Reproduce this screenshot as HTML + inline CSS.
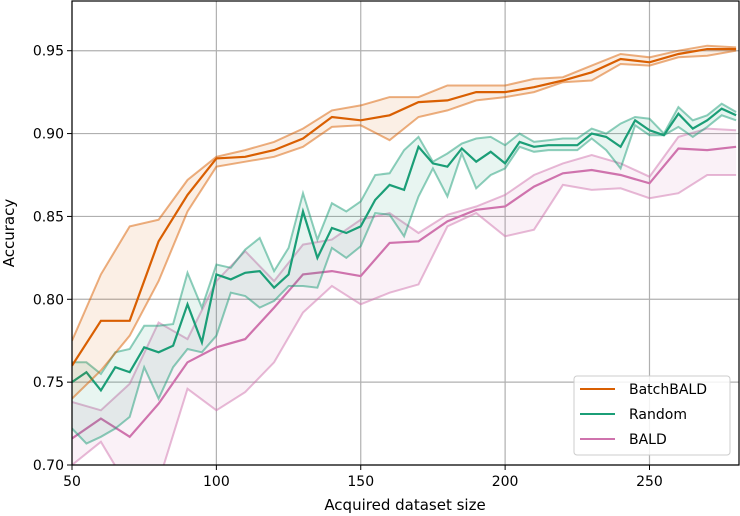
<!DOCTYPE html>
<html><head><meta charset="utf-8"><style>
html,body{margin:0;padding:0;background:#fff;}
svg{display:block;font-family:"DejaVu Sans","Liberation Sans",sans-serif;}
</style></head><body>
<svg id="chart" width="740" height="516" viewBox="0 0 740 516" xmlns="http://www.w3.org/2000/svg">
<g id="grid"></g>
<g id="series"></g>
<rect x="72" y="1" width="667" height="464" fill="none" stroke="#000" stroke-width="1.2"/>
<g id="ticks"></g>
<text x="405" y="510" font-size="15" text-anchor="middle">Acquired dataset size</text>
<text transform="translate(14,233) rotate(-90)" font-size="15" text-anchor="middle">Accuracy</text>
<g>
<rect x="574" y="376" width="156" height="79" rx="3" fill="#fff" fill-opacity="0.85" stroke="#ccc"/>
<line x1="580" y1="389" x2="615" y2="389" stroke="#d95f02" stroke-width="2"/>
<text x="629" y="394" font-size="14">BatchBALD</text>
<line x1="580" y1="414" x2="615" y2="414" stroke="#1b9e77" stroke-width="2"/>
<text x="629" y="419" font-size="14">Random</text>
<line x1="580" y1="439" x2="615" y2="439" stroke="#cf73ad" stroke-width="2"/>
<text x="629" y="444" font-size="14">BALD</text>
</g>
</svg>
<script>
const xTicks=[50,100,150,200,250];
const yTicks=[0.70,0.75,0.80,0.85,0.90,0.95];
const yTickLabels=["0.70","0.75","0.80","0.85","0.90","0.95"];
const xStep10=[50,60,70,80,90,100,110,120,130,140,150,160,170,180,190,200,210,220,230,240,250,260,270,280];
const xStep5=[50,55,60,65,70,75,80,85,90,95,100,105,110,115,120,125,130,135,140,145,150,155,160,165,170,175,180,185,190,195,200,205,210,215,220,225,230,235,240,245,250,255,260,265,270,275,280];
const batchMean=[0.760,0.787,0.787,0.835,0.863,0.885,0.886,0.890,0.897,0.910,0.908,0.911,0.919,0.920,0.925,0.925,0.928,0.932,0.937,0.945,0.943,0.948,0.951,0.951];
const batchUpper=[0.775,0.815,0.844,0.848,0.872,0.886,0.890,0.895,0.903,0.914,0.917,0.922,0.922,0.929,0.929,0.929,0.933,0.934,0.941,0.948,0.946,0.950,0.953,0.952];
const batchLower=[0.740,0.757,0.778,0.811,0.853,0.880,0.883,0.886,0.892,0.904,0.905,0.896,0.910,0.914,0.920,0.922,0.925,0.931,0.932,0.942,0.941,0.946,0.947,0.950];
const randMean=[0.750,0.756,0.745,0.759,0.756,0.771,0.768,0.772,0.797,0.774,0.815,0.812,0.816,0.817,0.807,0.815,0.853,0.825,0.843,0.840,0.844,0.860,0.869,0.866,0.892,0.882,0.880,0.891,0.883,0.889,0.882,0.895,0.892,0.893,0.893,0.893,0.900,0.898,0.892,0.908,0.902,0.899,0.912,0.903,0.908,0.915,0.911];
const randUpper=[0.762,0.762,0.755,0.768,0.770,0.784,0.784,0.785,0.816,0.795,0.821,0.819,0.830,0.837,0.817,0.831,0.864,0.836,0.858,0.853,0.859,0.875,0.876,0.890,0.898,0.883,0.888,0.894,0.897,0.898,0.893,0.900,0.895,0.896,0.897,0.897,0.903,0.900,0.906,0.910,0.909,0.900,0.916,0.908,0.911,0.918,0.913];
const randLower=[0.722,0.713,0.717,0.722,0.729,0.759,0.740,0.759,0.770,0.768,0.778,0.804,0.802,0.795,0.799,0.808,0.808,0.807,0.831,0.825,0.832,0.852,0.851,0.838,0.862,0.879,0.862,0.888,0.867,0.875,0.879,0.892,0.889,0.890,0.890,0.890,0.897,0.890,0.879,0.905,0.899,0.899,0.904,0.898,0.904,0.911,0.908];
const baldMean=[0.716,0.728,0.717,0.737,0.762,0.771,0.776,0.795,0.815,0.817,0.814,0.834,0.835,0.847,0.854,0.856,0.868,0.876,0.878,0.875,0.870,0.891,0.890,0.892];
const baldUpper=[0.738,0.733,0.749,0.786,0.776,0.811,0.829,0.811,0.833,0.836,0.848,0.852,0.840,0.851,0.856,0.863,0.875,0.882,0.887,0.882,0.874,0.898,0.903,0.902];
const baldLower=[0.700,0.714,0.685,0.690,0.746,0.733,0.744,0.762,0.792,0.808,0.797,0.804,0.809,0.844,0.852,0.838,0.842,0.869,0.866,0.867,0.861,0.864,0.875,0.875];

const L=72,R=739,T=1,B=465,X0=50,X1=281,Y0=0.70,Y1=0.98;
const sx=v=>L+(v-X0)/(X1-X0)*(R-L);
const sy=v=>B-(v-Y0)/(Y1-Y0)*(B-T);
const NS="http://www.w3.org/2000/svg";
function mk(tag,parent,attrs){const e=document.createElementNS(NS,tag);for(const k in attrs)e.setAttribute(k,attrs[k]);parent.appendChild(e);return e;}
const grid=document.getElementById('grid'),ticks=document.getElementById('ticks'),ser=document.getElementById('series');
xTicks.forEach(t=>{
  const g=mk('line',grid,{x1:sx(t),x2:sx(t),y1:T,y2:B,stroke:'#b0b0b0','stroke-width':1.2});
  
  
  const tk=mk('line',ticks,{x1:sx(t),x2:sx(t),y1:B,y2:B+5,stroke:'#000','stroke-width':1});
  
  
  const tx=mk('text',ticks,{x:sx(t),y:B+21,'font-size':14,'text-anchor':'middle'});
  tx.textContent=t;
  
  
});
yTicks.forEach((t,i)=>{
  const g=mk('line',grid,{x1:L,x2:R,y1:sy(t),y2:sy(t),stroke:'#b0b0b0','stroke-width':1.2});
  
  
  const tk=mk('line',ticks,{x1:L-5,x2:L,y1:sy(t),y2:sy(t),stroke:'#000','stroke-width':1});
  
  
  const tx=mk('text',ticks,{x:L-8,y:sy(t)+5,'font-size':14,'text-anchor':'end'});
  tx.textContent=yTickLabels[i];
  
  
});
function pts(xs,ys){return xs.map((x,i)=>sx(x).toFixed(1)+','+sy(ys[i]).toFixed(1));}
function draw(name,xs,mean,up,lo,col){
  const g=mk('g',ser,{});
  
  
  const band=mk('polygon',g,{points:pts(xs,up).concat(pts(xs,lo).reverse()).join(' '),fill:col,'fill-opacity':0.1});
  
  
  const u=mk('polyline',g,{points:pts(xs,up).join(' '),fill:'none',stroke:col,'stroke-opacity':0.5,'stroke-width':2});
  
  
  const l=mk('polyline',g,{points:pts(xs,lo).join(' '),fill:'none',stroke:col,'stroke-opacity':0.5,'stroke-width':2});
  
  
  const m=mk('polyline',g,{points:pts(xs,mean).join(' '),fill:'none',stroke:col,'stroke-width':2.2});
  
  
}
const clip=mk('clipPath',document.getElementById('chart'),{id:'pc'});
mk('rect',clip,{x:L,y:T,width:R-L,height:B-T});
ser.setAttribute('clip-path','url(#pc)');
draw('bald',xStep10,baldMean,baldUpper,baldLower,'#cf73ad');
draw('random',xStep5,randMean,randUpper,randLower,'#1b9e77');
draw('batchbald',xStep10,batchMean,batchUpper,batchLower,'#d95f02');
</script>
</body></html>
